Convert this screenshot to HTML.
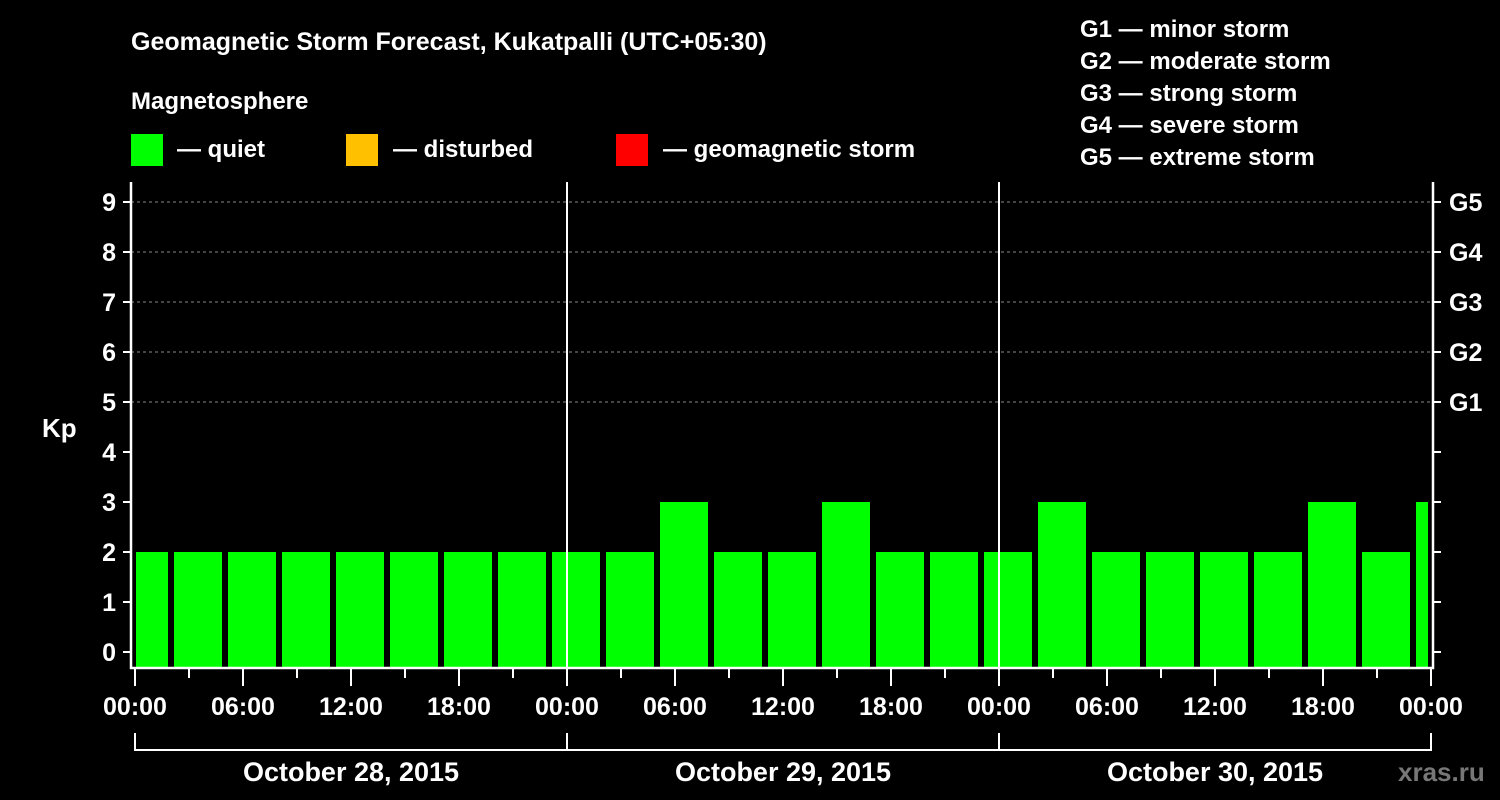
<!DOCTYPE html>
<html><head><meta charset="utf-8"><style>
body{margin:0;background:#000;}
svg{display:block;font-family:"Liberation Sans",Arial,sans-serif;font-weight:bold;}
</style></head><body>
<svg id="c" width="1500" height="800" viewBox="0 0 1500 800">
<rect width="1500" height="800" fill="#000"/>
<text x="131" y="50" fill="#fff" font-size="25">Geomagnetic Storm Forecast, Kukatpalli (UTC+05:30)</text>
<text x="131" y="109" fill="#fff" font-size="24">Magnetosphere</text>
<g><rect x="131" y="134" width="32" height="32" fill="#00ff00"/><text x="177" y="157" fill="#fff" font-size="24">— quiet</text></g>
<g><rect x="346" y="134" width="32" height="32" fill="#ffc000"/><text x="393" y="157" fill="#fff" font-size="24">— disturbed</text></g>
<g><rect x="616" y="134" width="32" height="32" fill="#ff0000"/><text x="663" y="157" fill="#fff" font-size="24">— geomagnetic storm</text></g>
<g fill="#fff" font-size="24">
<text x="1080" y="37">G1 — minor storm</text>
<text x="1080" y="69">G2 — moderate storm</text>
<text x="1080" y="101">G3 — strong storm</text>
<text x="1080" y="133">G4 — severe storm</text>
<text x="1080" y="165">G5 — extreme storm</text>
</g>
<text x="42" y="437" fill="#fff" font-size="26">Kp</text>
<text x="1398" y="781" fill="#777" font-size="26">xras.ru</text>
<defs><clipPath id="pc"><rect x="136" y="182" width="1292" height="486"/></clipPath></defs>
<g id="grid"></g><g id="bars" clip-path="url(#pc)"></g><g id="axes"></g>
</svg>
<script>
const kpValues=[2,2,2,2,2,2,2,2,2,2,3,2,2,3,2,2,2,3,2,2,2,2,3,2,3];
const yTicks=[0,1,2,3,4,5,6,7,8,9];
const gLabels=["G1","G2","G3","G4","G5"];
const xTickLabels=["00:00","06:00","12:00","18:00","00:00","06:00","12:00","18:00","00:00","06:00","12:00","18:00","00:00"];
const dayLabels=["October 28, 2015","October 29, 2015","October 30, 2015"];
const NS="http://www.w3.org/2000/svg";
const X0=135,DAY=432,SLOT=54,Y0=652,UNIT=50,BOTTOM=668,TOP=182,L=131,R=1433;
const y=v=>Y0-v*UNIT;
const xs=h=>X0+h/24*DAY;
function mk(p,t,a){const e=document.createElementNS(NS,t);for(const k in a)e.setAttribute(k,a[k]);p.appendChild(e);return e;}
const grid=document.getElementById('grid'),bars=document.getElementById('bars'),axes=document.getElementById('axes');
yTicks.forEach(v=>{
 if(v>=5){const l=mk(grid,'line',{x1:L,x2:R,y1:y(v),y2:y(v),stroke:'#888','stroke-dasharray':'3,3','stroke-width':1});
 
 }
 const t=mk(axes,'line',{x1:123,x2:L,y1:y(v),y2:y(v),stroke:'#fff','stroke-width':2});
 
 
 const t2=mk(axes,'line',{x1:R,x2:R+8,y1:y(v),y2:y(v),stroke:'#fff','stroke-width':2});
 
 
 const tx=mk(axes,'text',{x:116,y:y(v)+9,fill:'#fff','font-size':25,'text-anchor':'end'});tx.textContent=v;
 
 
});
gLabels.forEach((g,i)=>{const t=mk(axes,'text',{x:1449,y:y(5+i)+9,fill:'#fff','font-size':25});t.textContent=g;
 
 });
kpValues.forEach((v,i)=>{
 const x=X0-15+i*SLOT;
 const r=mk(bars,'rect',{x:x,y:y(v),width:48,height:BOTTOM-y(v),fill:'#00ff00'});
 
 
});
[1,2].forEach(d=>{const l=mk(axes,'line',{x1:X0+d*DAY,x2:X0+d*DAY,y1:TOP,y2:BOTTOM,stroke:'#fff','stroke-width':2});
 
 });
mk(axes,'path',{d:`M${L} ${TOP}V${BOTTOM}H${R}V${TOP}`,fill:'none',stroke:'#fff','stroke-width':2.5});
for(let h=0;h<=72;h+=3){const maj=h%6===0;const l=mk(axes,'line',{x1:xs(h),x2:xs(h),y1:BOTTOM,y2:BOTTOM+(maj?18:10),stroke:'#fff','stroke-width':2});
 
 }
xTickLabels.forEach((s,i)=>{const t=mk(axes,'text',{x:xs(i*6),y:715,fill:'#fff','font-size':25,'text-anchor':'middle'});t.textContent=s;
 
 });
mk(axes,'path',{d:`M${X0} 733V750H${X0+3*DAY}V733M${X0+DAY} 733V750M${X0+2*DAY} 733V750`,fill:'none',stroke:'#fff','stroke-width':2});
dayLabels.forEach((s,i)=>{const t=mk(axes,'text',{x:X0+DAY*i+DAY/2,y:781,fill:'#fff','font-size':27,'text-anchor':'middle'});t.textContent=s;
 
 });
</script>
</body></html>
